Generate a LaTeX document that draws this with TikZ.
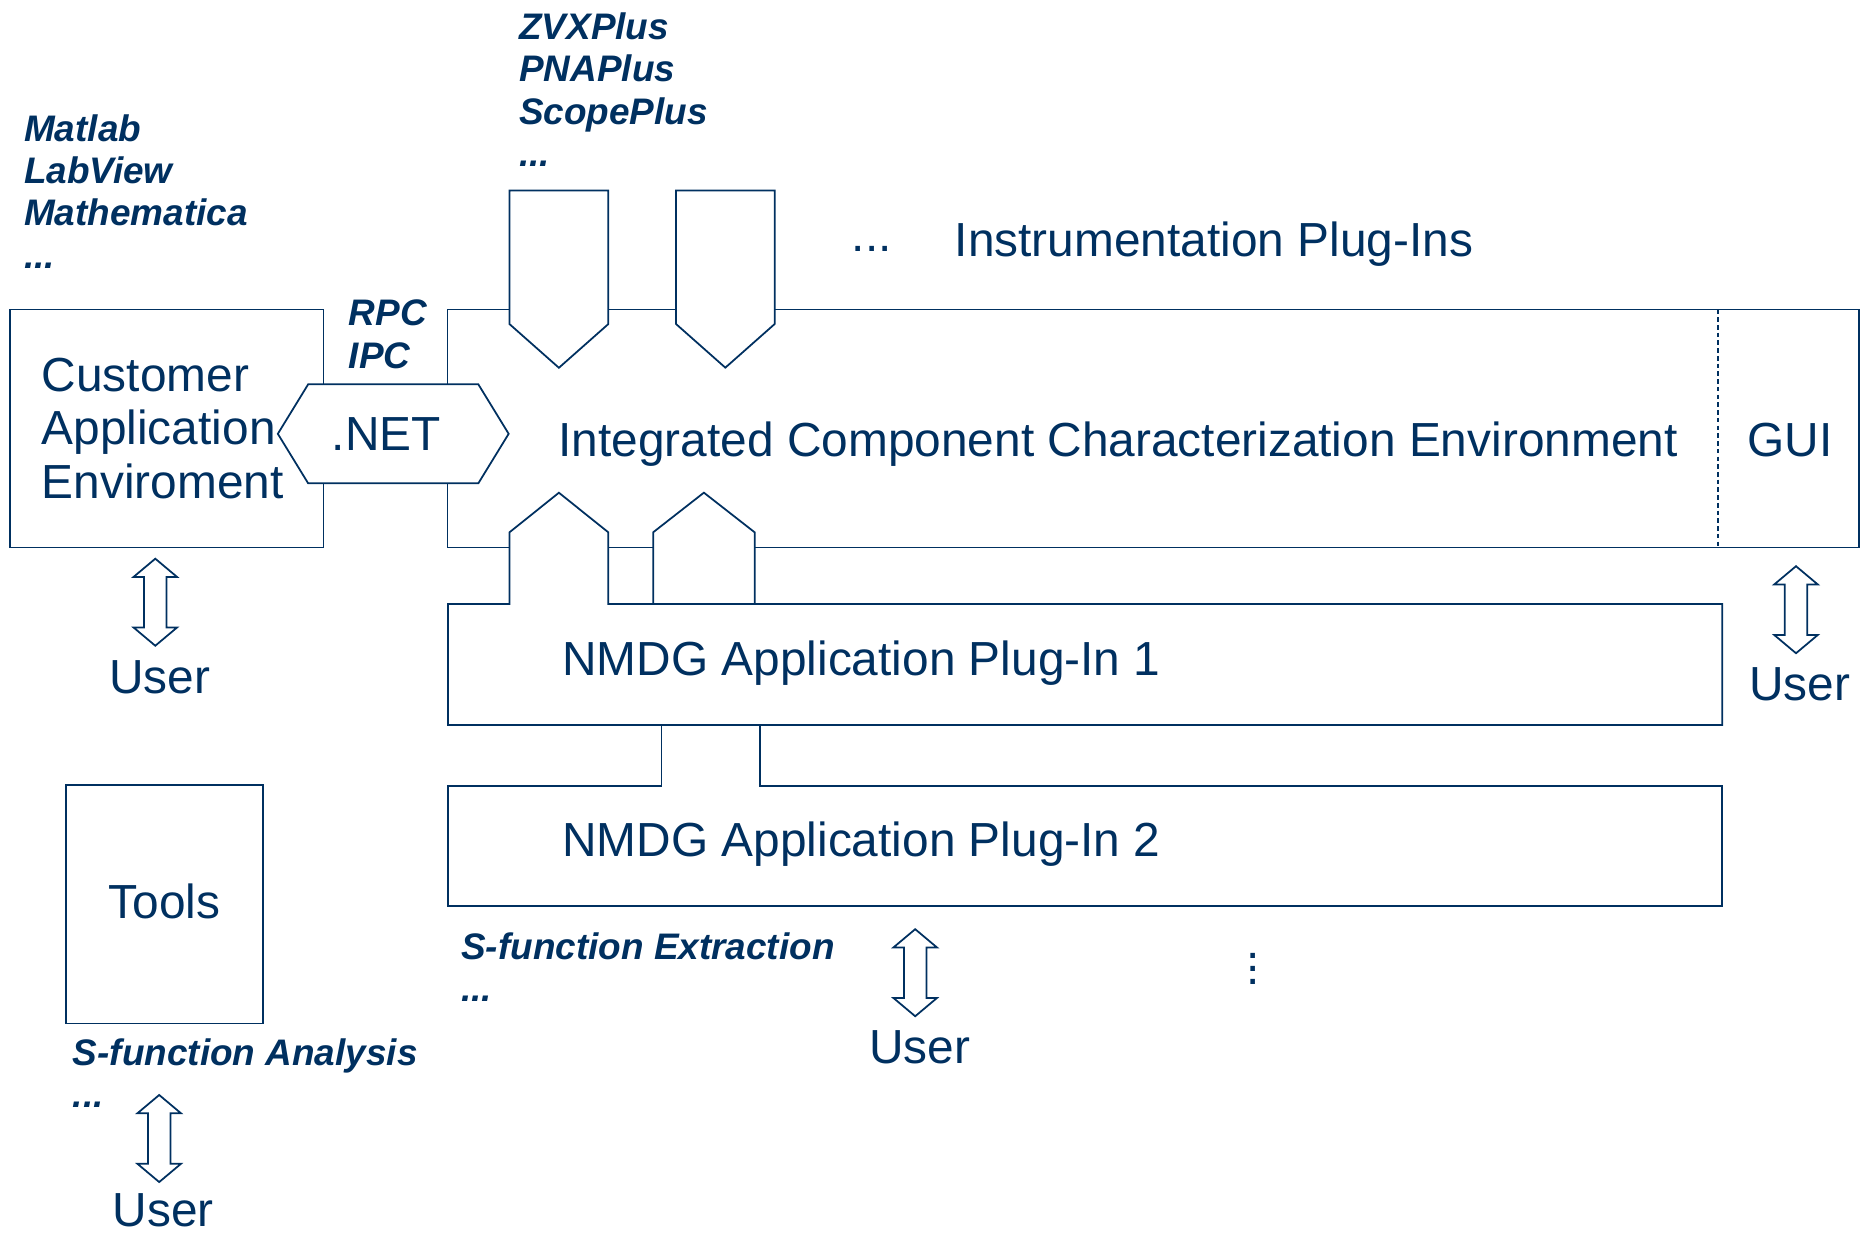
\documentclass[tikz,border=0pt]{standalone}
\usepackage{fontspec}
\setmainfont{Liberation Sans}
\usetikzlibrary{shapes.symbols,shapes.arrows,positioning}
\definecolor{nmdgblue}{RGB}{0,48,96}

\tikzset{
  box/.style={draw, fill=white, rectangle, inner sep=0pt},
  big/.style={font=\fontsize{13.6}{15.1}\selectfont, inner sep=0pt},
  note/.style={font=\fontsize{10.5}{12.05}\selectfont\bfseries\itshape, inner sep=0pt, align=left},
  plug/.style={draw, fill=white, signal, inner sep=0pt},
  userarrow/.style={draw, double arrow, rotate=90, inner sep=0.104cm,
    double arrow head extend=0.104cm, double arrow tip angle=100,
    minimum height=0.87cm},
  guisep/.style={dash pattern=on 1.3pt off 0.9pt}
}

\begin{document}
\begin{tikzpicture}[x=0.01cm, y=-0.01cm, line width=0.5pt, color=nmdgblue]
\useasboundingbox (0,0) rectangle (1863,1232);

% customer side
\node [box, big, minimum width=3.135cm, minimum height=2.38cm, text width=2.5cm,
  inner xsep=0.317cm, align=left] (cae) at (166.75,428.5)
  {Customer\\Application\\Enviroment};
\node [note, anchor=base west] (scripts) at (23.3,268.3)
  {Matlab\\LabView\\Mathematica\\...};
\node [note, anchor=base west] (rpc) at (347.9,368.3) {RPC\\IPC};

% main environment with GUI
\node [box, minimum width=14.105cm, minimum height=2.38cm] (icce) at (1153.25,428.5) {};
\draw [guisep] (1718.3,309.5) -- (1718.3,547.5);
\node [big, anchor=base west] (icce-text) at (557.6,456.7)
  {Integrated Component Characterization Environment};
\node [big, anchor=base west] (gui) at (1746.7,456) {GUI};

% instrumentation plug-ins
\node [plug, signal to=south, signal pointer angle=97, minimum width=0.988cm,
  minimum height=1.335cm] (instr1) at (558.9,257.25) {};
\node [plug, signal to=south, signal pointer angle=97, minimum width=0.985cm,
  minimum height=1.335cm] (instr2) at (725.35,257.25) {};
\node [note, anchor=base west] (instr-list) at (518.3,166.7)
  {ZVXPlus\\PNAPlus\\ScopePlus\\...};
\node [big, anchor=base west] (instr-more) at (851,251) {...};
\node [big, anchor=base west] (instr-text) at (954,256.7) {Instrumentation Plug-Ins};

% application plug-ins
\draw [fill=white] (448,604) -- (509.5,604) -- (509.5,532.3) -- (558.9,492.7)
  -- (608.3,532.3) -- (608.3,604) -- (1722.3,604) -- (1722.3,725) -- (448,725) -- cycle;
\node [plug, signal to=north, signal pointer angle=104, minimum width=1.014cm,
  minimum height=0.717cm] (socket) at (703.9,568.15) {};
\draw [fill=white] (448,785.7) -- (661.5,785.7) -- (661.5,725) -- (760,725)
  -- (760,785.7) -- (1722.3,785.7) -- (1722.3,906) -- (448,906) -- cycle;
\node [big, anchor=base west] (app1) at (561.5,675) {NMDG Application Plug-In 1};
\node [big, anchor=base west] (app2) at (561.5,856) {NMDG Application Plug-In 2};
\node [note, anchor=base west] (sfe) at (460.4,1001.7) {S-function Extraction\\...};
\node [font=\fontsize{13.6}{3.8}\selectfont, inner sep=0pt, align=center]
  (app-more) at (1253.3,969) {.\\.\\.};

% .NET link
\node [draw, fill=white, signal, signal to=west and east, signal pointer angle=117,
  minimum width=2.307cm, minimum height=0.99cm, big] (net) at (393.25,433.8)
  {\hspace*{-0.14cm}.NET};

% tools
\node [box, big, minimum width=1.973cm, minimum height=2.38cm, text depth=0.07cm]
  (tools) at (164.65,904.3) {Tools};
\node [note, anchor=base west] (sfa) at (72,1107.5) {S-function Analysis\\...};

% users
\node [userarrow] (cae-arrow) at (155.3,602.2) {};
\node [big, anchor=base] (cae-user) at (159.7,693.3) {User};
\node [userarrow] (gui-arrow) at (1796,609.7) {};
\node [big, anchor=base] (gui-user) at (1799.9,700.7) {User};
\node [userarrow] (app-arrow) at (915.2,972.7) {};
\node [big, anchor=base] (app-user) at (919.5,1063.3) {User};
\node [userarrow] (tools-arrow) at (159.2,1138.5) {};
\node [big, anchor=base] (tools-user) at (163.4,1226.5) {User};
\end{tikzpicture}
\end{document}
